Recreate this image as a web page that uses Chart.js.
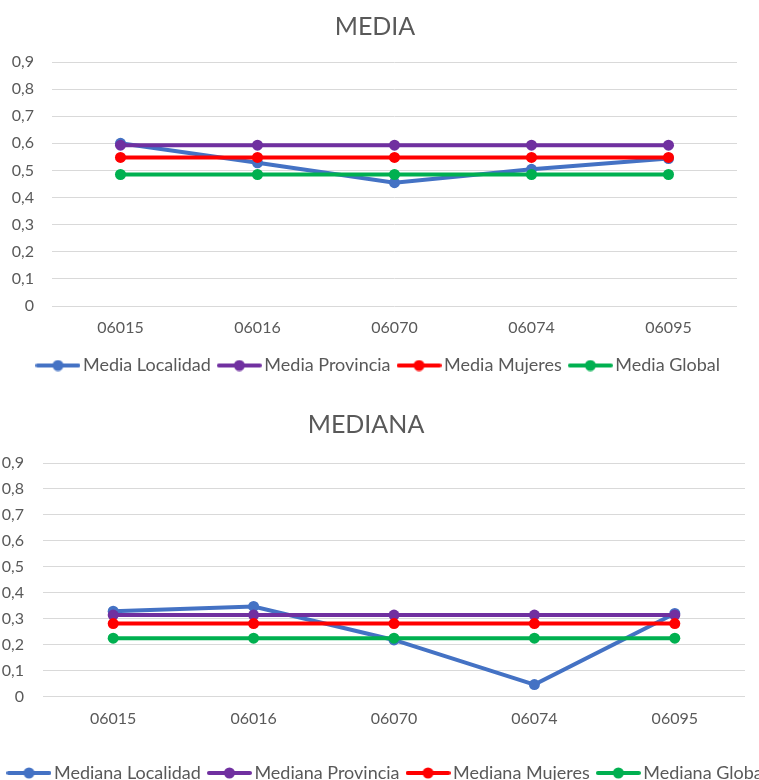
<!DOCTYPE html>
<html>
<head>
<meta charset="utf-8">
<script src="https://cdn.jsdelivr.net/npm/chart.js@4.4.1/dist/chart.umd.min.js"></script>
<style>
  html, body { margin: 0; padding: 0; background: #ffffff; overflow: hidden; width: 759px; height: 780px; position: relative; }
  .box { position: absolute; }
  #box1 { left: 0; top: 0; width: 762px; height: 390px; }
  #box2 { left: -20px; top: 395px; width: 820px; height: 397px; }
</style>
</head>
<body>
<div class="box" id="box1"><canvas id="mediaChart"></canvas></div>
<div class="box" id="box2"><canvas id="medianaChart"></canvas></div>
<script>
// Códigos de localidad (eje X)
const categories = ['06015', '06016', '06070', '06074', '06095'];
// Etiquetas del eje Y (coma decimal)
const yTickLabels = ['0', '0,1', '0,2', '0,3', '0,4', '0,5', '0,6', '0,7', '0,8', '0,9'];

// MEDIA
const mediaLocalidad = [0.600, 0.528, 0.455, 0.504, 0.544];
const mediaProvincia = [0.593, 0.593, 0.593, 0.593, 0.593];
const mediaMujeres   = [0.548, 0.548, 0.548, 0.548, 0.548];
const mediaGlobal    = [0.485, 0.485, 0.485, 0.485, 0.485];

// MEDIANA
const medianaLocalidad = [0.329, 0.347, 0.218, 0.046, 0.320];
const medianaProvincia = [0.314, 0.314, 0.314, 0.314, 0.314];
const medianaMujeres   = [0.281, 0.281, 0.281, 0.281, 0.281];
const medianaGlobal    = [0.225, 0.225, 0.225, 0.225, 0.225];

const COLORS = {
  localidad: '#4472C4',
  provincia: '#7030A0',
  mujeres: '#FF0000',
  global: '#00B050'
};
const TEXT = '#595959';
const GRID = '#D9D9D9';
const FONT = 'Lato, "Open Sans", sans-serif';

// Legend marker: line segment with a dot in the middle
function legendMarker(color) {
  const c = document.createElement('canvas');
  c.width = 45; c.height = 12;
  const ctx = c.getContext('2d');
  ctx.strokeStyle = color;
  ctx.lineWidth = 4;
  ctx.lineCap = 'round';
  ctx.beginPath();
  ctx.moveTo(2, 6); ctx.lineTo(43, 6);
  ctx.stroke();
  ctx.fillStyle = color;
  ctx.beginPath();
  ctx.arc(22.5, 6, 5.5, 0, Math.PI * 2);
  ctx.fill();
  return c;
}

// Moves the title block sideways after layout (options.plugins.titleShift.dx)
const titleShift = {
  id: 'titleShift',
  afterLayout: function (chart, args, opts) {
    const t = chart.titleBlock;
    if (t && opts.dx) { t.left += opts.dx; t.right += opts.dx; }
  }
};

function series(label, data, color, order) {
  return {
    label: label,
    data: data,
    borderColor: color,
    backgroundColor: color,
    borderWidth: 4,
    pointRadius: 5.5,
    pointHoverRadius: 5.5,
    pointBackgroundColor: color,
    pointBorderColor: color,
    pointBorderWidth: 0,
    tension: 0,
    order: order,
    marker: legendMarker(color)
  };
}

function makeChart(id, title, datasets, pad) {
  return new Chart(document.getElementById(id), {
    type: 'line',
    data: { labels: categories, datasets: datasets },
    plugins: [titleShift],
    options: {
      responsive: true,
      maintainAspectRatio: false,
      animation: false,
      layout: { padding: { left: 0, right: 0, top: pad.top, bottom: pad.bottom } },
      plugins: {
        titleShift: { dx: pad.titleDx },
        title: {
          display: true,
          text: title,
          color: TEXT,
          font: { family: FONT, size: 25, weight: 'normal' },
          padding: { top: 0, bottom: pad.titleGap }
        },
        legend: {
          position: 'bottom',
          labels: {
            color: TEXT,
            font: { family: FONT, size: 18 },
            usePointStyle: true,
            pointStyleWidth: 32,
            padding: 12.5,
            generateLabels: function (chart) {
              return chart.data.datasets.map(function (ds, i) {
                return {
                  text: ds.label,
                  fillStyle: ds.borderColor,
                  strokeStyle: ds.borderColor,
                  lineWidth: 0,
                  pointStyle: ds.marker,
                  fontColor: TEXT,
                  hidden: false,
                  datasetIndex: i
                };
              });
            }
          }
        },
        tooltip: { enabled: false }
      },
      scales: {
        x: {
          offset: true,
          grid: { display: false, drawTicks: false },
          border: { display: false },
          ticks: { color: TEXT, font: { family: FONT, size: 16 }, padding: pad.xPad, maxRotation: 0 },
          afterFit: function (s) { s.height = pad.xAxis; }
        },
        y: {
          min: 0,
          max: 0.9,
          grid: { color: GRID, lineWidth: 1, drawTicks: false },
          border: { display: false },
          ticks: {
            stepSize: 0.1,
            color: TEXT,
            font: { family: FONT, size: 16 },
            padding: pad.yPad,
            callback: function (v, i) { return yTickLabels[i]; }
          },
          afterFit: function (s) { s.width = pad.left; }
        },
        // empty band on the right of the plot area
        yRight: {
          position: 'right',
          display: true,
          grid: { display: false, drawTicks: false },
          border: { display: false },
          ticks: { display: false },
          afterFit: function (s) { s.width = pad.right; }
        }
      }
    }
  });
}

makeChart('mediaChart', 'MEDIA', [
  series('Media Localidad', mediaLocalidad, COLORS.localidad, 4),
  series('Media Provincia', mediaProvincia, COLORS.provincia, 3),
  series('Media Mujeres', mediaMujeres, COLORS.mujeres, 2),
  series('Media Global', mediaGlobal, COLORS.global, 1)
], { left: 52, right: 25, top: 12, bottom: 5.5, titleGap: 20, xAxis: 38, xPad: 12, yPad: 18, titleDx: -6 });

makeChart('medianaChart', 'MEDIANA', [
  series('Mediana Localidad', medianaLocalidad, COLORS.localidad, 4),
  series('Mediana Provincia', medianaProvincia, COLORS.provincia, 3),
  series('Mediana Mujeres', medianaMujeres, COLORS.mujeres, 2),
  series('Mediana Global', medianaGlobal, COLORS.global, 1)
], { left: 63, right: 55, top: 15, bottom: 0, titleGap: 23, xAxis: 55, xPad: 13, yPad: 19, titleDx: -24 });
</script>
</body>
</html>
